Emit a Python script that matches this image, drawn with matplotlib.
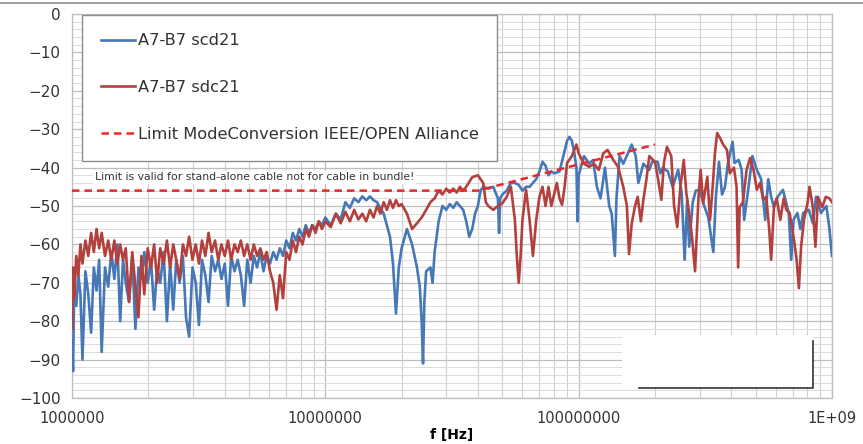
import numpy as np
import matplotlib.pyplot as plt
from matplotlib.ticker import FixedLocator, FixedFormatter, MultipleLocator, LogLocator, NullFormatter
from matplotlib.lines import Line2D
from matplotlib.patches import Rectangle

# 1 - 10 MHz, both traces share the sweep points (MHz)
f_low = [1.00, 1.01, 1.02, 1.04, 1.06, 1.08, 1.10, 1.13, 1.16, 1.19, 1.22, 1.25, 1.28, 1.31,
         1.35, 1.39, 1.43, 1.47, 1.51, 1.55, 1.59, 1.63, 1.68, 1.73, 1.78, 1.83, 1.88, 1.93,
         1.99, 2.05, 2.11, 2.17, 2.23, 2.30, 2.37, 2.44, 2.51, 2.58, 2.66, 2.74, 2.82, 2.90,
         2.99, 3.08, 3.17, 3.26, 3.36, 3.46, 3.56, 3.67, 3.78, 3.89, 4.01, 4.13, 4.25, 4.38,
         4.51, 4.64, 4.78, 4.92, 5.07, 5.22, 5.38, 5.54, 5.70, 5.87, 6.05, 6.23, 6.42, 6.61,
         6.81, 7.01, 7.22, 7.44, 7.66, 7.89, 8.13, 8.37, 8.62, 8.88, 9.15, 9.42, 9.70]
scd21_low = [-85, -93, -72, -76, -68, -73, -90, -67, -73, -83, -66, -72, -64, -88,
             -66, -71, -62, -69, -60, -80, -64, -70, -75, -63, -82, -66, -69, -62,
             -70, -64, -77, -66, -70, -62, -80, -65, -77, -64, -70, -63, -79, -84,
             -66, -70, -81, -64, -68, -75, -63, -67, -64, -69, -65, -76, -63, -67,
             -64, -68, -76, -64, -70, -63, -66, -62, -67, -63, -65, -62, -64, -61,
             -63, -59, -61, -57, -59, -56, -58, -55, -57, -55, -56, -54, -55]
sdc21_low = [-82, -66, -74, -63, -68, -60, -65, -59, -63, -57, -62, -56, -61, -57,
             -63, -59, -64, -59, -65, -60, -64, -61, -75, -62, -71, -79, -63, -73,
             -61, -66, -60, -70, -61, -65, -59, -66, -60, -64, -69, -60, -63, -58,
             -64, -60, -65, -59, -63, -57, -62, -59, -64, -60, -63, -59, -64, -60,
             -62, -59, -63, -60, -64, -60, -63, -61, -64, -62, -67, -70, -77, -68,
             -74, -62, -64, -59, -62, -58, -60, -56, -58, -55, -57, -54, -56]

# 10 MHz - 1 GHz, scd21 (MHz / dB)
f_scd21_high = [10, 10.5, 11, 11.5, 12, 12.5, 13, 13.5, 14, 14.5, 15, 15.5, 16, 17, 18, 18.5,
                19, 19.5, 20, 21, 22, 23, 23.6, 24, 24.3, 24.6, 25, 26, 26.5, 27, 28, 29, 30,
                31, 32, 33, 34, 35, 36, 37, 38, 39, 40, 41, 42, 44, 46, 48, 48.5, 49, 50, 52,
                54, 56, 58, 60, 62, 64, 66, 68, 70, 72, 74, 76, 78, 80, 84, 87, 90, 92, 94, 96,
                98, 99, 100, 105, 110, 114, 118, 122, 127, 132, 135, 139, 141, 145, 150, 162,
                168, 172, 180, 190, 195, 205, 210, 215, 225, 235, 247, 255, 262, 268, 273, 282,
                290, 300, 313, 325, 340, 348, 358, 368, 378, 388, 405, 412, 428, 440, 450, 465,
                485, 505, 525, 545, 560, 575, 590, 610, 640, 660, 675, 690, 705, 730, 750, 770,
                810, 840, 865, 905, 950, 975, 1000]
scd21_high = [-53, -55, -52, -53.5, -49, -50.5, -48, -49, -47.5, -48.5, -47.5, -48.5, -49, -52,
              -58, -65, -78, -66, -61, -56, -60, -66, -71, -80, -91, -75, -67, -66, -70, -62,
              -54, -50, -51, -49.5, -50.5, -49, -50, -51, -54, -58, -56, -52, -50, -46, -45,
              -45.5, -45, -48, -57, -48, -47, -46, -44, -44, -44.5, -46, -45, -45, -44, -43,
              -41, -38.5, -39.5, -42, -41, -41.5, -41, -37, -33, -32, -33, -36, -40, -54, -42,
              -37, -39, -38, -45, -48, -40, -50, -52, -63, -48, -37, -39, -34, -37, -44, -39,
              -40.6, -38.5, -38.5, -41.5, -40, -41, -45, -40.6, -46.6, -64, -48.4, -60.6, -49,
              -46, -45.8, -50, -53, -62, -47.6, -38.5, -47, -45, -39, -33.3, -38.8, -38, -40.6,
              -53.6, -46.6, -37, -40.6, -43, -53.6, -43, -47.6, -50.3, -47.6, -45.8, -49.3,
              -52, -64, -53.6, -51.8, -56, -51.8, -51, -54.5, -47.6, -51.8, -50, -55.5, -63]

# 10 MHz - 1 GHz, sdc21 (MHz / dB)
f_sdc21_high = [10, 10.5, 11, 11.5, 12, 12.5, 13, 13.5, 14, 14.5, 15, 15.5, 16, 16.5, 17,
                17.5, 18, 18.5, 19, 19.5, 20, 21, 21.5, 22, 23, 24, 25, 26, 27, 28, 29, 30,
                31, 32, 33, 34, 35, 36, 38, 40, 42, 43, 44, 46, 48, 50, 52, 54, 56, 57, 58, 59,
                60, 62, 64, 66, 68, 70, 72, 74, 76, 78, 80, 82, 84, 86, 88, 90, 94, 98, 100,
                105, 110, 115, 120, 125, 130, 137, 143, 150, 155, 158, 162, 167, 171, 176, 180,
                185, 190, 200, 206, 212, 217, 223, 232, 238, 245, 252, 260, 266, 272, 280, 288,
                297, 303, 310, 322, 330, 338, 345, 352, 362, 372, 385, 395, 410, 420, 426, 432,
                445, 460, 475, 490, 505, 520, 535, 550, 565, 575, 590, 605, 625, 645, 660, 680,
                705, 725, 740, 755, 775, 800, 815, 840, 860, 880, 915, 945, 975, 1000]
sdc21_high = [-54, -55.5, -52, -54.5, -51.5, -54, -51, -53.5, -52, -54, -51, -53, -50, -52,
              -49, -51, -48.5, -50.5, -48.5, -50, -49.5, -52, -54, -56, -54.5, -53, -51, -49,
              -48, -46, -47, -45.5, -46.5, -45.5, -46.5, -45, -46, -45, -42.5, -42, -44, -49,
              -50, -51, -50, -49.3, -47.6, -45, -53.6, -63, -70, -63, -53.6, -45.8, -53.6,
              -63, -53.6, -47.6, -45, -50, -45, -50, -47, -44, -48, -49.7, -45, -38.8, -37,
              -34, -36.3, -39, -39.8, -39, -40.6, -36.3, -35.4, -38, -39.8, -45, -50, -62.5,
              -54.5, -50, -47.6, -54, -48.4, -43.2, -37, -38.5, -43.2, -48.4, -38.8, -34.6,
              -37, -50, -55.5, -45, -38, -46.6, -51, -58, -67, -48, -40.6, -49.3, -42.4,
              -53.6, -45, -36.3, -31, -32.4, -34, -35.4, -41.5, -40, -45, -66, -50.3, -49,
              -40.6, -37.5, -40.6, -45.8, -44, -48.4, -47.6, -56, -64, -50.3, -48, -53.6, -48,
              -51, -51.8, -58, -64, -71.4, -60.6, -53.6, -49.3, -45, -50.3, -60.6, -47.6,
              -50.3, -47.6, -48, -49]

# limit line (MHz / dB)
f_limit = [1, 40, 200]
limit = [-46, -46, -34]

xtick_vals = [1e6, 1e7, 1e8, 1e9]
xtick_labels = ['1000000', '10000000', '100000000', '1E+09']

blue = '#4677B6'
red = '#B3403D'

plt.rcParams['font.family'] = 'DejaVu Sans'
fig = plt.figure(figsize=(8.63, 4.44), dpi=100)
ax = fig.add_axes([0.0834, 0.1036, 0.8807, 0.8649])

f_scd = np.array(f_low + f_scd21_high) * 1e6
f_sdc = np.array(f_low + f_sdc21_high) * 1e6
ax.plot(f_scd, scd21_low + scd21_high, color=blue, lw=1.9, label='A7-B7 scd21', zorder=3)
ax.plot(f_sdc, sdc21_low + sdc21_high, color=red, lw=1.9, label='A7-B7 sdc21', zorder=4)
ax.plot(np.array(f_limit) * 1e6, limit, color='#E8282B', lw=1.8, ls=(0, (3, 2)),
        label='Limit ModeConversion IEEE/OPEN Alliance', zorder=5)

ax.set_xscale('log')
ax.set_xlim(1e6, 1e9)
ax.set_ylim(-100, 0)
ax.xaxis.set_major_locator(FixedLocator(xtick_vals))
ax.xaxis.set_major_formatter(FixedFormatter(xtick_labels))
ax.xaxis.set_minor_locator(LogLocator(base=10, subs=range(2, 10), numticks=20))
ax.xaxis.set_minor_formatter(NullFormatter())
ax.yaxis.set_major_locator(MultipleLocator(10))
ax.yaxis.set_minor_locator(MultipleLocator(2))
ax.grid(True, which='major', color='#BDBDBD', lw=0.9)
ax.grid(True, which='minor', axis='y', color='#DCDCDC', lw=0.7)
ax.grid(True, which='minor', axis='x', color='#D0D0D0', lw=0.8)
ax.set_axisbelow(True)
ax.tick_params(which='both', length=0)
ax.tick_params(axis='y', labelsize=11, pad=8, labelcolor='#333333')
ax.tick_params(axis='x', labelsize=10.5, pad=9, labelcolor='#333333')
for s in ax.spines.values():
    s.set_color('#BDBDBD')
    s.set_linewidth(0.9)

ax.set_xlabel('f [Hz]', fontsize=10, fontweight='bold', labelpad=2)

ax.text(0.03, 0.575, 'Limit is valid for stand-alone cable not for cable in bundle!',
        transform=ax.transAxes, fontsize=7.8, color='#333333', va='center',
        bbox=dict(facecolor='white', edgecolor='none', pad=1), zorder=2)

leg = ax.legend(loc='upper left', bbox_to_anchor=(0.013, 0.998), borderaxespad=0,
                fontsize=11.7, handlelength=2.1, handletextpad=0.2, labelspacing=1.95,
                borderpad=1.15, fancybox=False, framealpha=1, edgecolor='#8C8C8C')
leg.get_frame().set_linewidth(1.0)
for t in leg.get_texts():
    t.set_color('#333333')

# blank box bottom right
ax.add_patch(Rectangle((0.724, 0.026), 0.251, 0.138, transform=ax.transAxes,
                       facecolor='white', edgecolor='none', zorder=6))
ax.add_line(Line2D([0.746, 0.975, 0.975], [0.026, 0.026, 0.148], transform=ax.transAxes,
                   color='#333333', lw=1.2, zorder=7))

fig.add_artist(Line2D([0, 1], [0.993, 0.993], color='#8C8C8C', lw=1.2))

plt.savefig('out.png', dpi=100)
